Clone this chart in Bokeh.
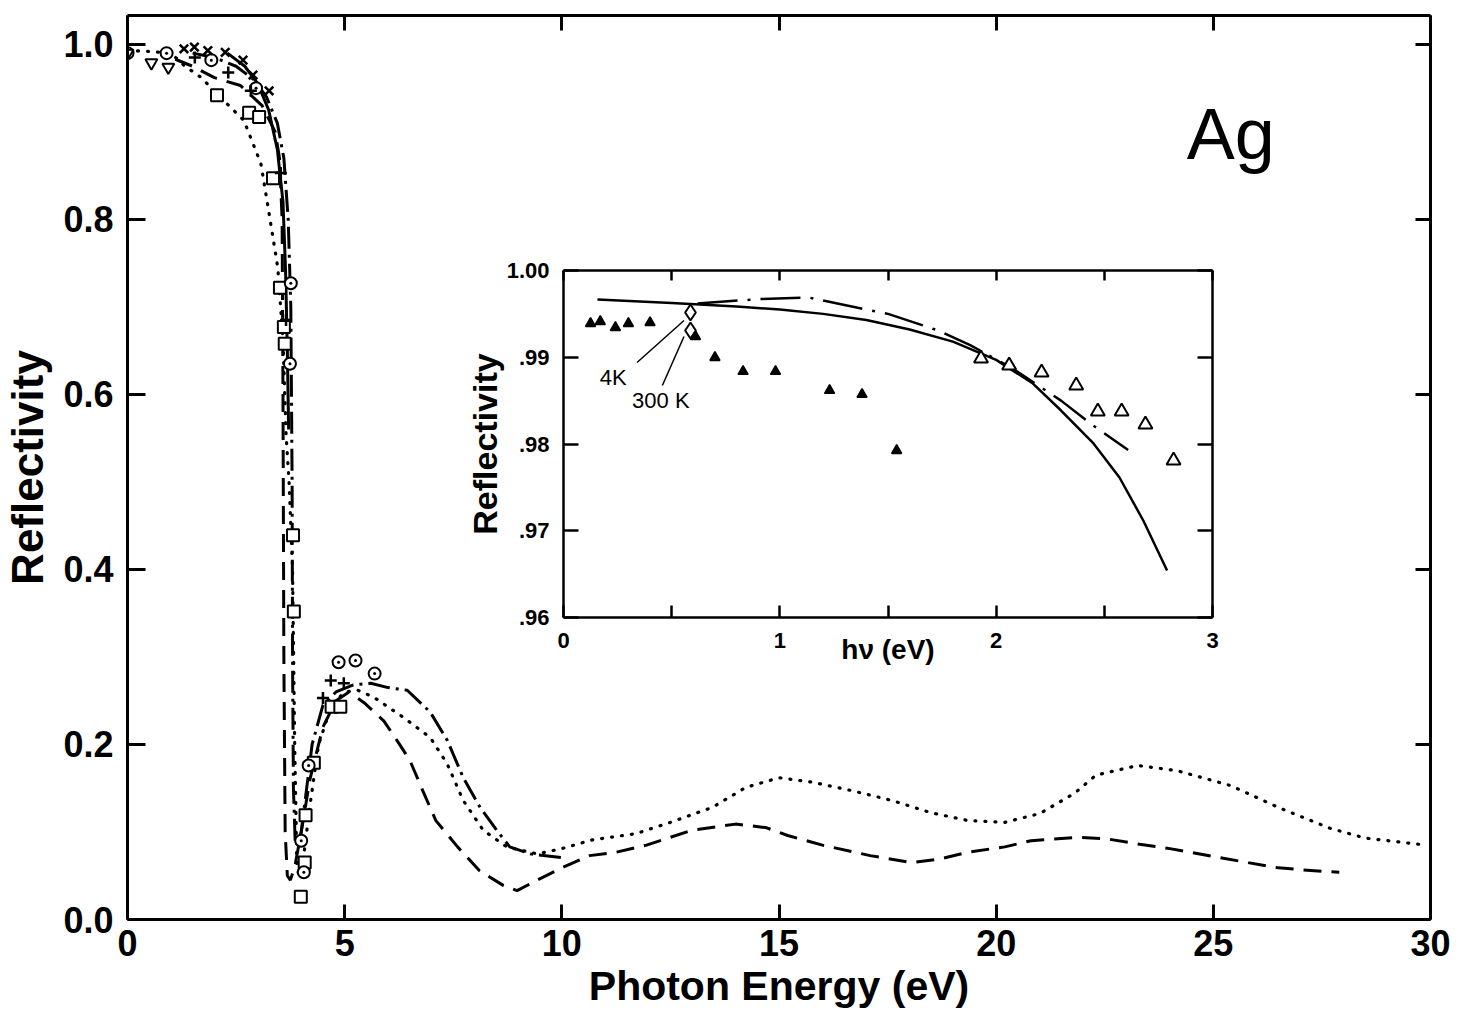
from bokeh.plotting import figure
from bokeh.models import Range1d, LinearAxis, FixedTicker, Label
from bokeh.layouts import column
from bokeh.embed import file_html
from bokeh.resources import INLINE
from bokeh.core.properties import value

FONT = "Liberation Sans"

# ---------------- main panel data (photon energy eV, reflectivity) ----------------
dotted_x = [0, 0.5, 1.0, 1.3, 1.7, 2.09, 2.68, 3.07, 3.23, 3.46, 3.58, 3.65, 3.72, 3.8, 3.85, 3.9,
            3.95, 4.05, 4.2, 4.4, 4.7, 5.0, 5.3, 5.67, 6.35, 6.97, 7.36, 7.73, 8.19, 8.73, 9.43,
            10.0, 10.7, 11.7, 12.5, 13.46, 14.24, 15.0, 15.76, 16.7, 17.6, 18.5, 19.36, 20.2,
            21.0, 21.8, 22.3, 23.26, 24.17, 25.4, 26.5, 27.7, 28.5, 29.9]
dotted_y = [0.993, 0.992, 0.99, 0.976, 0.962, 0.942, 0.913, 0.864, 0.816, 0.745, 0.662, 0.555,
            0.5, 0.4, 0.2, 0.06, 0.05, 0.07, 0.13, 0.2, 0.245, 0.26, 0.262, 0.254, 0.231, 0.208,
            0.178, 0.136, 0.102, 0.083, 0.075, 0.081, 0.091, 0.098, 0.111, 0.128, 0.151, 0.162,
            0.157, 0.147, 0.136, 0.122, 0.113, 0.111, 0.121, 0.144, 0.165, 0.176, 0.17, 0.153,
            0.128, 0.104, 0.093, 0.085]

dashed_x = [1.1, 1.5, 2.0, 2.6, 3.1, 3.4, 3.5, 3.56, 3.58, 3.6, 3.63, 3.68, 3.75, 3.85, 4.0, 4.2,
            4.5, 4.8, 5.1, 5.44, 5.9, 6.2, 6.5, 6.8, 7.1, 7.6, 8.1, 8.65, 8.97, 9.43, 10.0, 10.64,
            11.26, 11.95, 13.0, 14.0, 14.7, 15.2, 16.0, 17.1, 18.05, 18.7, 19.36, 20.2, 20.8,
            21.9, 22.57, 23.3, 24.0, 25.0, 25.8, 26.5, 27.5, 27.9]
dashed_y = [0.983, 0.975, 0.962, 0.953, 0.93, 0.9, 0.87, 0.8, 0.6, 0.3, 0.1, 0.05, 0.045, 0.06,
            0.1, 0.16, 0.22, 0.25, 0.26, 0.248, 0.227, 0.205, 0.182, 0.147, 0.113, 0.083, 0.056,
            0.039, 0.033, 0.045, 0.059, 0.073, 0.077, 0.085, 0.102, 0.109, 0.105, 0.096, 0.085,
            0.073, 0.065, 0.069, 0.077, 0.083, 0.09, 0.094, 0.092, 0.086, 0.081, 0.072, 0.065,
            0.059, 0.055, 0.054]

dashdot_x = [1.5, 2.0, 2.5, 2.9, 3.2, 3.45, 3.6, 3.7, 3.76, 3.79, 3.8, 3.82, 3.86, 3.92, 4.0,
             4.1, 4.25, 4.5, 4.8, 5.2, 5.6, 6.0, 6.44, 6.97, 7.36, 7.73, 8.12, 8.5, 8.8, 9.27, 10.1]
dashdot_y = [0.99, 0.985, 0.975, 0.96, 0.94, 0.91, 0.87, 0.8, 0.7, 0.5, 0.3, 0.15, 0.09, 0.085,
             0.1, 0.14, 0.2, 0.245, 0.26, 0.268, 0.27, 0.265, 0.262, 0.237, 0.205, 0.162, 0.128,
             0.102, 0.083, 0.075, 0.07]

solid_x = [2.3, 2.7, 3.0, 3.25, 3.45, 3.58, 3.64, 3.68, 3.71]
solid_y = [0.99, 0.975, 0.955, 0.925, 0.88, 0.82, 0.74, 0.65, 0.56]

square_x = [2.06, 2.8, 3.03, 3.35, 3.51, 3.6, 3.62, 3.81, 3.83, 3.99, 4.08, 4.1, 4.29, 4.7, 4.9]
square_y = [0.942, 0.922, 0.917, 0.847, 0.722, 0.677, 0.658, 0.439, 0.352, 0.026, 0.065, 0.119,
            0.179, 0.243, 0.243]

circ_x = [0.0, 0.9, 1.93, 2.96, 3.76, 3.74, 4.0, 4.06, 4.17, 4.86, 5.25, 5.69]
circ_y = [0.99, 0.99, 0.982, 0.95, 0.727, 0.635, 0.09, 0.054, 0.176, 0.294, 0.296, 0.281]

xmark_x = [1.3, 1.54, 1.85, 2.25, 2.66, 2.89, 3.26]
xmark_y = [0.995, 0.997, 0.993, 0.991, 0.982, 0.965, 0.947]

plus_x = [1.55, 2.32, 2.84, 3.53, 3.65, 4.5, 4.68, 4.98]
plus_y = [0.985, 0.968, 0.947, 0.853, 0.685, 0.253, 0.273, 0.27]

tri_dn_x = [0.0, 0.55, 0.94]
tri_dn_y = [0.99, 0.979, 0.974]

main_xticks = [0, 5, 10, 15, 20, 25, 30]
main_yticks = [0.0, 0.2, 0.4, 0.6, 0.8, 1.0]

# ---------------- inset data ----------------
in_solid_x = [0.157, 0.5, 0.8, 1.0, 1.2, 1.4, 1.6, 1.8, 2.0, 2.17, 2.30, 2.45, 2.57, 2.68, 2.79]
in_solid_y = [0.99666, 0.99625, 0.99585, 0.9955, 0.9950, 0.9943, 0.9932, 0.9918, 0.9897,
              0.98697, 0.98386, 0.98006, 0.97614, 0.97118, 0.96542]

in_dd_x = [0.62, 0.9, 1.13, 1.36, 1.5, 1.73, 1.88, 2.07, 2.3, 2.45, 2.61]
in_dd_y = [0.9962, 0.9967, 0.9969, 0.9957, 0.995, 0.9931, 0.9914, 0.9888, 0.985, 0.9821, 0.9793]

in_filled_x = [0.125, 0.17, 0.24, 0.30, 0.40, 0.61, 0.70, 0.83, 0.98, 1.23, 1.38, 1.54]
in_filled_y = [0.99389, 0.99412, 0.99343, 0.99389, 0.994, 0.99239, 0.98997, 0.98836, 0.98836,
               0.98617, 0.98571, 0.97925]

in_open_x = [1.93, 2.06, 2.21, 2.37, 2.47, 2.58, 2.69, 2.82]
in_open_y = [0.98986, 0.98905, 0.98824, 0.98674, 0.98375, 0.98375, 0.98225, 0.97810]

in_diam_x = [0.587, 0.587]
in_diam_y = [0.99516, 0.99308]

temp_labels = ["4K", "300 K"]
temp_lab_x = [0.23, 0.45]
temp_lab_y = [0.98767, 0.98501]
lead_x0 = [0.34, 0.457]
lead_y0 = [0.98939, 0.98674]
lead_x1 = [0.557, 0.557]
lead_y1 = [0.99423, 0.99239]

in_xticks = [0, 0.5, 1, 1.5, 2, 2.5, 3]
in_xlabels = {0: "0", 0.5: " ", 1: "1", 1.5: " ", 2: "2", 2.5: " ", 3: "3"}
in_yticks = [0.96, 0.97, 0.98, 0.99, 1.00]
in_ylabels = {0.96: ".96", 0.97: ".97", 0.98: ".98", 0.99: ".99", 1.00: "1.00"}

BORDER_L = 126   # shared left border (column aligns the two plots' borders)
BORDER_R = 27


def style_axis(ax, tick_in, show_labels=True, size="36px"):
    ax.axis_line_width = 3
    ax.axis_line_color = "black"
    ax.major_tick_in = tick_in
    ax.major_tick_out = 0
    ax.major_tick_line_width = 3
    ax.minor_tick_line_color = None
    ax.major_label_text_font = FONT
    ax.major_label_text_font_style = "bold"
    ax.major_label_text_color = "black"
    if show_labels:
        ax.major_label_text_font_size = size
    else:
        ax.major_label_text_font_size = "0px"
        ax.major_label_text_alpha = 0
        ax.major_label_standoff = 0


# ---------------- main figure ----------------
p = figure(width=1457, height=1020, x_range=Range1d(0, 30), y_range=Range1d(0, 1.033),
           output_backend="svg", toolbar_location=None,
           min_border_left=BORDER_L, min_border_right=BORDER_R, min_border_top=15,
           min_border_bottom=101)
p.grid.visible = False
p.outline_line_color = None
p.background_fill_color = "white"
p.border_fill_color = "white"

p.xaxis.ticker = FixedTicker(ticks=main_xticks)
p.yaxis.ticker = FixedTicker(ticks=main_yticks)
style_axis(p.xaxis[0], 15)
style_axis(p.yaxis[0], 18)
p.xaxis.major_label_standoff = 10
p.yaxis.major_label_standoff = 14
p.yaxis.major_label_overrides = {0.0: "0.0", 0.2: "0.2", 0.4: "0.4", 0.6: "0.6", 0.8: "0.8", 1.0: "1.0"}
p.xaxis.axis_label = "Photon Energy (eV)"
p.yaxis.axis_label = "Reflectivity"
for ax, fs, st in ((p.xaxis[0], "41px", 4), (p.yaxis[0], "44px", 8)):
    ax.axis_label_text_font = FONT
    ax.axis_label_text_font_style = "bold"
    ax.axis_label_text_font_size = fs
    ax.axis_label_text_color = "black"
    ax.axis_label_standoff = st

top_ax = LinearAxis(ticker=FixedTicker(ticks=main_xticks))
style_axis(top_ax, 15, show_labels=False)
p.add_layout(top_ax, "above")
right_ax = LinearAxis(ticker=FixedTicker(ticks=main_yticks))
style_axis(right_ax, 15, show_labels=False)
p.add_layout(right_ax, "right")

p.line(dotted_x, dotted_y, line_color="black", line_width=3.2, line_dash="1 9", line_cap="round")
p.line(dashed_x, dashed_y, line_color="black", line_width=3, line_dash="18 10")
p.line(dashdot_x, dashdot_y, line_color="black", line_width=3, line_dash="22 6 3 6")
p.line(solid_x, solid_y, line_color="black", line_width=3)

p.scatter(square_x, square_y, marker="square", size=12, fill_color="white", line_color="black", line_width=2)
p.scatter(circ_x, circ_y, marker="circle_dot", size=12, fill_color="white", line_color="black", line_width=2)
p.scatter(xmark_x, xmark_y, marker="x", size=12, line_color="black", line_width=2.5)
p.scatter(plus_x, plus_y, marker="cross", size=12, line_color="black", line_width=2.5)
p.scatter(tri_dn_x, tri_dn_y, marker="inverted_triangle", size=12, fill_color="white", line_color="black", line_width=2)

p.add_layout(Label(x=25.4, y=0.898, text="Ag", text_font=FONT, text_font_size="72px",
                   text_align="center", text_baseline="middle", text_color="black"))

# ---------------- inset figure ----------------
inset = figure(width=BORDER_L + 650 + BORDER_R, height=412, x_range=Range1d(0, 3),
               y_range=Range1d(0.96, 1.0), output_backend="svg", toolbar_location=None,
               min_border_left=BORDER_L, min_border_right=BORDER_R, min_border_top=15,
               min_border_bottom=50)
inset.grid.visible = False
inset.outline_line_color = None
inset.background_fill_color = "white"
inset.border_fill_color = None

inset.xaxis.ticker = FixedTicker(ticks=in_xticks)
inset.yaxis.ticker = FixedTicker(ticks=in_yticks)
style_axis(inset.xaxis[0], 12, size="22px")
style_axis(inset.yaxis[0], 15, size="22px")
inset.xaxis.major_label_overrides = in_xlabels
inset.yaxis.major_label_overrides = in_ylabels
inset.xaxis.major_label_standoff = 10
inset.yaxis.major_label_standoff = 14
inset.yaxis.axis_label = "Reflectivity"
inset.xaxis.axis_label = "hν (eV)"
for ax, fs, st in ((inset.yaxis[0], "34px", 0), (inset.xaxis[0], "28px", -22)):
    ax.axis_label_text_font = FONT
    ax.axis_label_text_font_style = "bold"
    ax.axis_label_text_font_size = fs
    ax.axis_label_text_color = "black"
    ax.axis_label_standoff = st
    ax.axis_line_width = 2.5
    ax.major_tick_line_width = 2.5

in_top = LinearAxis(ticker=FixedTicker(ticks=in_xticks))
style_axis(in_top, 10, show_labels=False)
in_top.axis_line_width = 2.5
in_top.major_tick_line_width = 2.5
inset.add_layout(in_top, "above")
in_right = LinearAxis(ticker=FixedTicker(ticks=in_yticks))
style_axis(in_right, 15, show_labels=False)
in_right.axis_line_width = 2.5
in_right.major_tick_line_width = 2.5
inset.add_layout(in_right, "right")

inset.line(in_solid_x, in_solid_y, line_color="black", line_width=2.5)
inset.line(in_dd_x, in_dd_y, line_color="black", line_width=2.5, line_dash="40 10 3 10")
inset.scatter(in_filled_x, in_filled_y, marker="triangle", size=10, fill_color="black",
              line_color="black", line_width=1.5)
inset.scatter(in_open_x, in_open_y, marker="triangle", size=14, fill_color="white",
              line_color="black", line_width=2)
inset.scatter(in_diam_x, in_diam_y, marker="diamond", size=16, fill_color="white",
              line_color="black", line_width=2)
inset.segment(x0=lead_x0, y0=lead_y0, x1=lead_x1, y1=lead_y1, line_color="black", line_width=1.5)
inset.text(x=temp_lab_x, y=temp_lab_y, text=temp_labels, text_font=value(FONT),
           text_font_size="22px", text_align="center", text_baseline="middle", text_color="black")

inset.styles = {"position": "absolute", "left": f"{562 - BORDER_L}px", "top": "255px", "z-index": "5"}

root = column(p, inset)
open("out.html", "w").write(file_html(root, INLINE))
